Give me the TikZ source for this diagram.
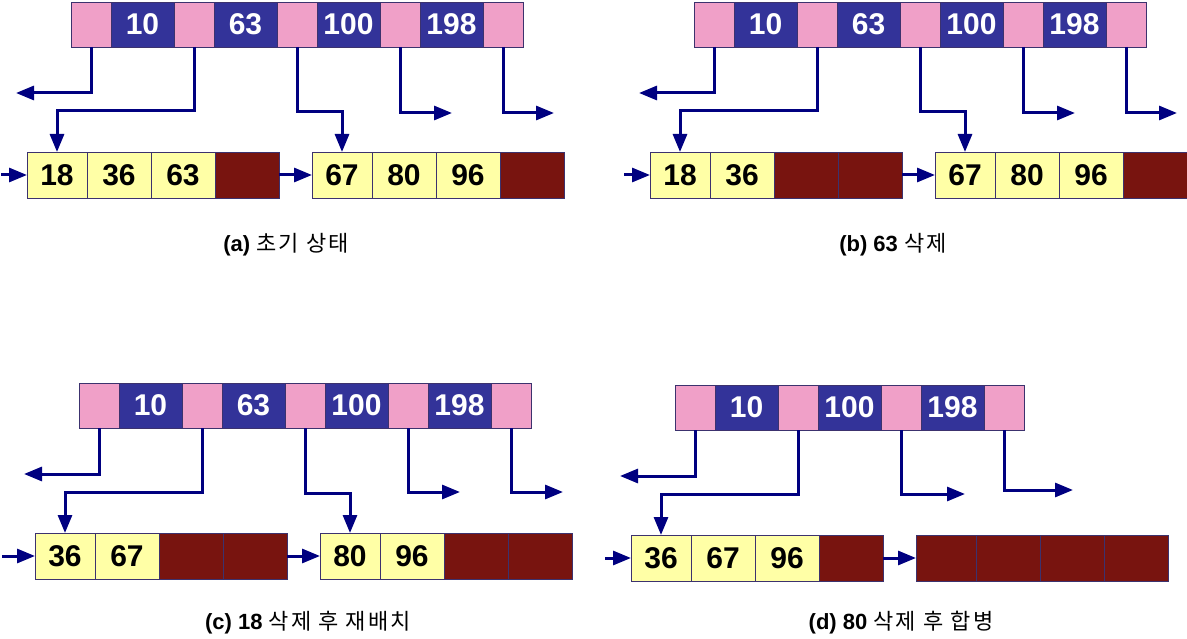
\documentclass[tikz,border=0pt]{standalone}
\usepackage{fontspec}
\setmainfont{Liberation Sans}
\newfontfamily\kr[LetterSpace=10]{Noto Sans CJK KR}
\usetikzlibrary{arrows.meta}
\definecolor{pinkc}{RGB}{240,160,200}
\definecolor{bluec}{RGB}{51,51,153}
\definecolor{yellowc}{RGB}{255,255,166}
\definecolor{darkc}{RGB}{120,20,15}
\definecolor{arrowc}{RGB}{0,0,128}
\definecolor{edgec}{RGB}{60,50,110}
\tikzset{
 cell/.style={rectangle, draw=edgec, line width=0.8pt, inner sep=0pt, outer sep=0pt,
   minimum height=45pt, anchor=west, font=\fontsize{30}{32}\selectfont\bfseries},
 pk/.style={cell, fill=pinkc, minimum width=40pt},
 bk/.style={cell, fill=bluec, text=white, minimum width=63pt},
 yl/.style={cell, fill=yellowc, minimum width=64pt, minimum height=46pt},
 ylf/.style={yl, minimum width=60pt},
 dk/.style={cell, fill=darkc, minimum width=64pt, minimum height=46pt},
 dkf/.style={dk, minimum width=60pt},
 ar/.style={draw=arrowc, line width=3pt, -{Triangle[length=18pt,width=14pt]}},
 captxt/.style={font=\fontsize{22}{24}\selectfont}
}
\newcommand\mytop[3]{%
 \node[pk] (p0) at (#1,#2) {};
 \foreach \k [count=\i] in {#3} {
   \pgfmathtruncatemacro\j{\i-1}
   \node[bk] (k\i) at (p\j.east) {\k};
   \node[pk] (p\i) at (k\i.east) {};
 }}
\begin{document}
\begin{tikzpicture}[x=1pt,y=-1pt]
\useasboundingbox (0,0) rectangle (1187,639);

% ---------- (a) ----------
\begin{scope}[name prefix=a-]
 \mytop{71}{24.5}{10,63,100,198}
 \node[ylf] (l1c1) at (27,175) {18};
 \node[yl] (l1c2) at (l1c1.east) {36};
 \node[yl] (l1c3) at (l1c2.east) {63};
 \node[dk] (l1c4) at (l1c3.east) {};
 \node[ylf] (l2c1) at (312,175) {67};
 \node[yl] (l2c2) at (l2c1.east) {80};
 \node[yl] (l2c3) at (l2c2.east) {96};
 \node[dk] (l2c4) at (l2c3.east) {};
 \coordinate (s) at (1,175);
 \coordinate (e0) at (16,93);
 \coordinate (e3) at (452,113);
 \coordinate (e4) at (554,113);
 \draw[ar] (s) -- (l1c1.west);
 \draw[ar] (l1c4.east) -- (l2c1.west);
 \draw[ar] (p0.south) |- (e0);
 \draw[ar] (p1.south) -- (p1.south |- 0,111) -| (l1c1.north);
 \draw[ar] (p2.south) -- (p2.south |- 0,112) -| (l2c1.north);
 \draw[ar] (p3.south) |- (e3);
 \draw[ar] (p4.south) |- (e4);
\end{scope}

% ---------- (b) ----------
\begin{scope}[shift={(623,0)}, name prefix=b-]
 \mytop{71}{24.5}{10,63,100,198}
 \node[ylf] (l1c1) at (27,175) {18};
 \node[yl] (l1c2) at (l1c1.east) {36};
 \node[dk] (l1c3) at (l1c2.east) {};
 \node[dk] (l1c4) at (l1c3.east) {};
 \node[ylf] (l2c1) at (312,175) {67};
 \node[yl] (l2c2) at (l2c1.east) {80};
 \node[yl] (l2c3) at (l2c2.east) {96};
 \node[dk] (l2c4) at (l2c3.east) {};
 \coordinate (s) at (1,175);
 \coordinate (e0) at (16,93);
 \coordinate (e3) at (452,113);
 \coordinate (e4) at (554,113);
 \draw[ar] (s) -- (l1c1.west);
 \draw[ar] (l1c4.east) -- (l2c1.west);
 \draw[ar] (p0.south) |- (e0);
 \draw[ar] (p1.south) -- (p1.south |- 0,111) -| (l1c1.north);
 \draw[ar] (p2.south) -- (p2.south |- 0,112) -| (l2c1.north);
 \draw[ar] (p3.south) |- (e3);
 \draw[ar] (p4.south) |- (e4);
\end{scope}

% ---------- (c) ----------
\begin{scope}[shift={(8,381)}, name prefix=c-]
 \mytop{71}{24.5}{10,63,100,198}
 \node[ylf] (l1c1) at (27,175) {36};
 \node[yl] (l1c2) at (l1c1.east) {67};
 \node[dk] (l1c3) at (l1c2.east) {};
 \node[dk] (l1c4) at (l1c3.east) {};
 \node[ylf] (l2c1) at (312,175) {80};
 \node[yl] (l2c2) at (l2c1.east) {96};
 \node[dk] (l2c3) at (l2c2.east) {};
 \node[dk] (l2c4) at (l2c3.east) {};
 \coordinate (s) at (-6,175);
 \coordinate (e0) at (16,93);
 \coordinate (e3) at (452,111);
 \coordinate (e4) at (555,111);
 \draw[ar] (s) -- (l1c1.west);
 \draw[ar] (l1c4.east) -- (l2c1.west);
 \draw[ar] (p0.south) |- (e0);
 \draw[ar] (p1.south) -- (p1.south |- 0,111) -| (l1c1.north);
 \draw[ar] (p2.south) -- (p2.south |- 0,112) -| (l2c1.north);
 \draw[ar] (p3.south) |- (e3);
 \draw[ar] (p4.south) |- (e4);
\end{scope}

% ---------- (d) ----------
\begin{scope}[shift={(604,383)}, name prefix=d-]
 \mytop{71}{24.5}{10,100,198}
 \node[ylf] (l1c1) at (27,175) {36};
 \node[yl] (l1c2) at (l1c1.east) {67};
 \node[yl] (l1c3) at (l1c2.east) {96};
 \node[dk] (l1c4) at (l1c3.east) {};
 \node[dkf] (l2c1) at (312,175) {};
 \node[dk] (l2c2) at (l2c1.east) {};
 \node[dk] (l2c3) at (l2c2.east) {};
 \node[dk] (l2c4) at (l2c3.east) {};
 \coordinate (s) at (1,175);
 \coordinate (e0) at (16,93);
 \coordinate (e2) at (361,111);
 \coordinate (e3) at (469,107);
 \draw[ar] (s) -- (l1c1.west);
 \draw[ar] (l1c4.east) -- (l2c1.west);
 \draw[ar] (p0.south) |- (e0);
 \draw[ar] (p1.south) -- (p1.south |- 0,111) -| (l1c1.north);
 \draw[ar] (p2.south) |- (e2);
 \draw[ar] (p3.south) |- (e3);
\end{scope}

% ---------- captions ----------
\node[captxt] (ca) at (286,245) {\textbf{(a)} {\kr 초기 상태}};
\node[captxt] (cb) at (893,245) {\textbf{(b) 63} {\kr 삭제}};
\node[captxt] (cc) at (308,623) {\textbf{(c) 18} {\kr 삭제 후 재배치}};
\node[captxt] (cd) at (901,623) {\textbf{(d) 80} {\kr 삭제 후 합병}};
\end{tikzpicture}
\end{document}
